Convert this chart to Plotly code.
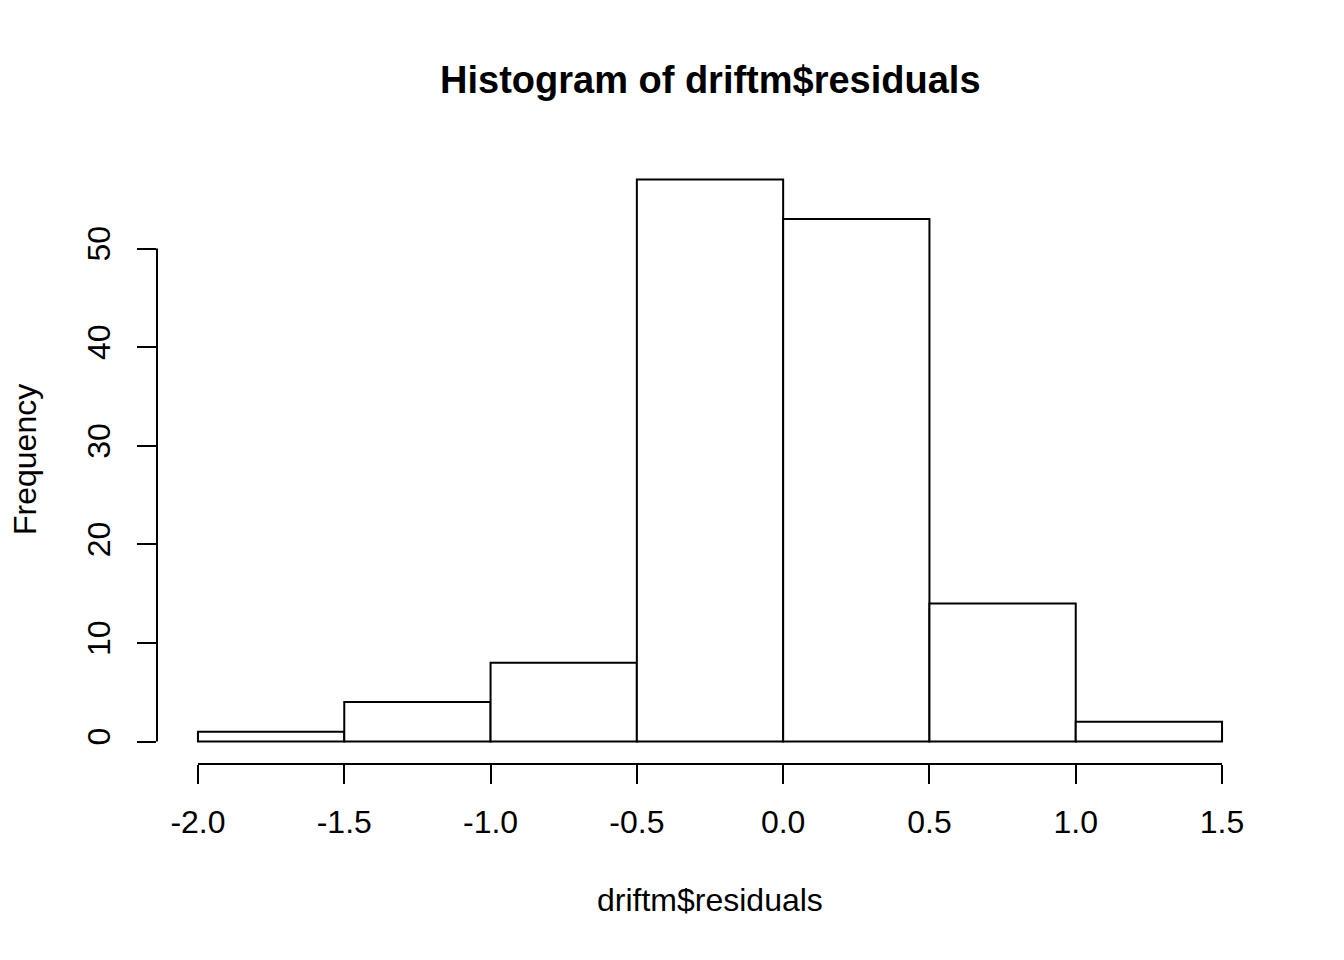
import plotly.graph_objects as go

bin_edges = [-2.0, -1.5, -1.0, -0.5, 0.0, 0.5, 1.0, 1.5]
counts = [1, 4, 8, 57, 53, 14, 2]
x_ticks = [-2.0, -1.5, -1.0, -0.5, 0.0, 0.5, 1.0, 1.5]
x_tick_labels = ["-2.0", "-1.5", "-1.0", "-0.5", "0.0", "0.5", "1.0", "1.5"]
y_ticks = [0, 10, 20, 30, 40, 50]

centers = [(a + b) / 2 for a, b in zip(bin_edges[:-1], bin_edges[1:])]
width = bin_edges[1] - bin_edges[0]

FONT = "Liberation Sans, Arial, sans-serif"

fig = go.Figure()
fig.add_trace(go.Bar(
    x=centers, y=counts, width=width,
    marker=dict(color="white", line=dict(color="black", width=2)),
    hoverinfo="skip",
))

fig.update_layout(
    width=1344, height=960,
    paper_bgcolor="white", plot_bgcolor="white",
    margin=dict(l=149, r=89, t=149, b=204, pad=0),
    showlegend=False,
    font=dict(family=FONT, size=32, color="black"),
    xaxis=dict(
        range=[-2.14, 1.64], showgrid=False, zeroline=False, showline=False,
        tickmode="array", tickvals=x_ticks, ticktext=x_tick_labels,
        ticks="outside", ticklen=19, tickwidth=2, tickcolor="black",
        tickfont=dict(family=FONT, size=32, color="black"),
        ticklabelstandoff=11,
    ),
    yaxis=dict(
        range=[-2.28, 59.28], showgrid=False, zeroline=False, showline=False,
        tickmode="array", tickvals=y_ticks, ticktext=[str(v) for v in y_ticks],
        ticks="outside", ticklen=19, tickwidth=2, tickcolor="black",
        tickangle=-90,
        tickfont=dict(family=FONT, size=32, color="black"),
        ticklabelstandoff=14,
    ),
)

# R-style axis lines spanning only tick range
fig.add_shape(type="line", xref="x", yref="paper", x0=x_ticks[0], x1=x_ticks[-1], y0=0, y1=0,
              line=dict(color="black", width=2))
fig.add_shape(type="line", xref="paper", yref="y", x0=0, x1=0, y0=y_ticks[0], y1=y_ticks[-1],
              line=dict(color="black", width=2))

fig.add_annotation(text="<b>Histogram of driftm$residuals</b>", xref="paper", yref="paper",
                   x=0.5, y=(764 - 80) / 607, xanchor="center", yanchor="middle",
                   showarrow=False, font=dict(family=FONT, size=38, color="black"))
fig.add_annotation(text="driftm$residuals", xref="paper", yref="paper",
                   x=0.5, y=(764 - 900) / 607, xanchor="center", yanchor="middle",
                   showarrow=False, font=dict(family=FONT, size=32, color="black"))
fig.add_annotation(text="Frequency", xref="paper", yref="paper",
                   x=(25 - 157) / 1106, y=(764 - 460) / 607, xanchor="center", yanchor="middle",
                   textangle=-90, showarrow=False, font=dict(family=FONT, size=32, color="black"))

fig.write_html("out.html")
